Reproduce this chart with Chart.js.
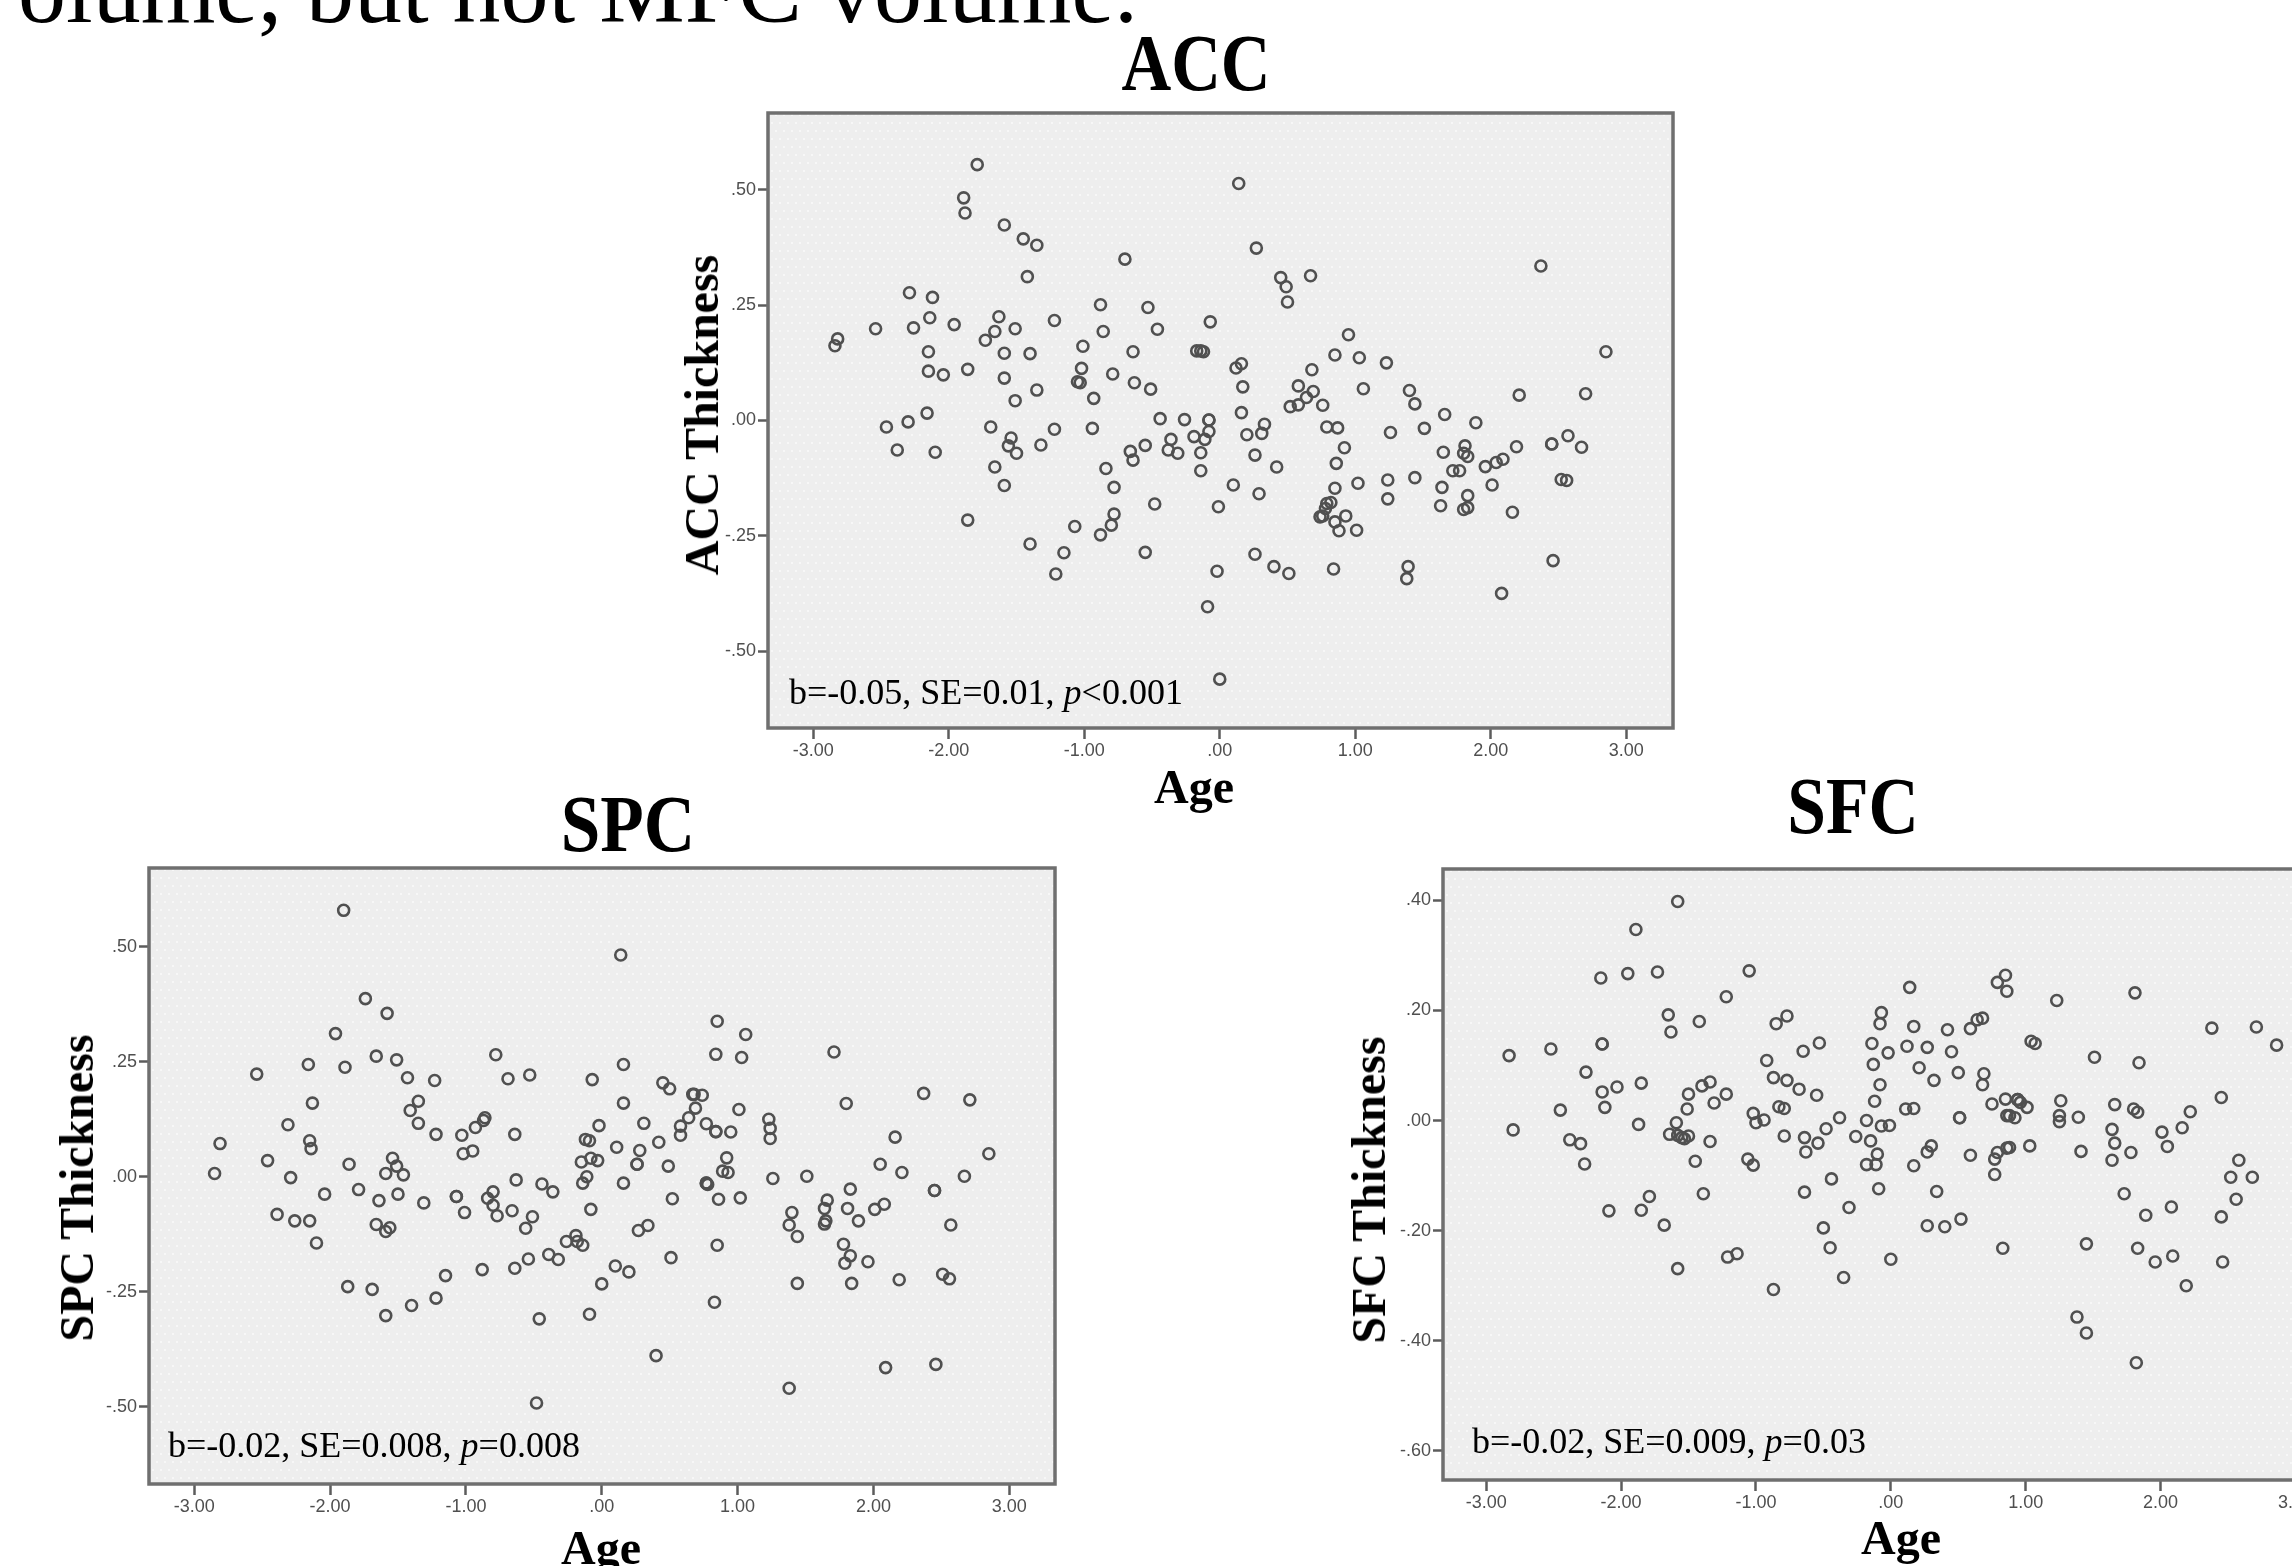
<!DOCTYPE html>
<html>
<head>
<meta charset="utf-8">
<script src="https://cdn.jsdelivr.net/npm/chart.js@4"></script>
<style>
html,body{margin:0;padding:0;width:2292px;height:1566px;overflow:hidden;background:#fff}
canvas{position:absolute;filter:blur(0.7px)}
.t{position:absolute;font-family:"Liberation Serif",serif;line-height:1;white-space:nowrap;color:#000}
.b{font-weight:bold}
</style>
</head>
<body>
<script>
const xTickValues=[-3,-2,-1,0,1,2,3];
const accTicks=[-0.5,-0.25,0,0.25,0.5];
const spcTicks=[-0.5,-0.25,0,0.25,0.5];
const sfcTicks=[-0.6,-0.4,-0.2,0,0.2,0.4];
const headline="olume, but not MFC volume.";
const accStat=["b=-0.05, SE=0.01, ","p","<0.001"];
const spcStat=["b=-0.02, SE=0.008, ","p","=0.008"];
const sfcStat=["b=-0.02, SE=0.009, ","p","=0.03"];

const accPoints=[[-1.79,.555],[-1.89,.483],[-1.88,.45],[-1.59,.424],[-1.45,.394],[-1.35,.38],[-1.42,.312],[-.7,.35],[.14,.514],[.27,.374],[.45,.31],[.49,.29],[.5,.257],[.67,.314],[2.37,.335],[-2.29,.277],[-2.12,.267],[-2.14,.223],[-2.26,.201],[-2.54,.199],[-1.96,.208],[-1.63,.225],[-1.66,.193],[-1.51,.199],[-1.73,.174],[-1.22,.217],[-.88,.251],[-.86,.193],[-.53,.245],[-.46,.198],[-.07,.214],[-1.01,.161],[-.64,.149],[-2.15,.149],[-1.59,.146],[-1.4,.145],[-2.82,.177],[-2.84,.162],[-2.15,.107],[-2.04,.099],[-1.86,.111],[-1.59,.092],[-1.02,.113],[-1.05,.084],[-1.03,.082],[-.79,.101],[-.63,.082],[-.51,.068],[-1.35,.066],[-1.51,.043],[-.93,.048],[-.17,.151],[-.14,.151],[-.12,.149],[.12,.114],[.16,.123],[.17,.073],[.68,.11],[.85,.142],[1.03,.136],[1.23,.125],[.95,.186],[1.06,.069],[.58,.075],[.69,.063],[.64,.05],[.58,.034],[.52,.03],[.76,.033],[1.4,.065],[1.44,.036],[1.66,.013],[1.89,-.005],[2.21,.055],[2.7,.058],[2.85,.149],
[-2.16,.016],[-2.3,-.003],[-2.46,-.014],[-2.38,-.064],[-2.1,-.069],[-1.69,-.014],[-1.54,-.038],[-1.56,-.055],[-1.5,-.071],[-1.66,-.101],[-1.59,-.141],[-1.32,-.053],[-1.22,-.019],[-.94,-.017],[-.44,.004],[-.26,.002],[-.08,.001],[-.08,.001],[.16,.017],[.33,-.008],[.31,-.028],[.2,-.031],[-.19,-.035],[-.11,-.041],[-.08,-.024],[-.36,-.041],[-.38,-.064],[-.31,-.071],[-.55,-.054],[-.66,-.067],[-.64,-.086],[-.84,-.104],[-.78,-.145],[-.14,-.07],[-.14,-.109],[.26,-.075],[.42,-.101],[.1,-.14],[.29,-.159],[-.01,-.187],[-.48,-.181],[-.78,-.203],[-.8,-.227],[-.88,-.248],[-1.07,-.23],[-1.4,-.268],[-1.15,-.287],[-1.21,-.333],[-1.86,-.216],[-.55,-.286],[-.02,-.327],[-.09,-.404],[0,-.561],[.26,-.29],[.4,-.317],[.51,-.332],[.84,-.322],[.79,-.014],[.87,-.016],[.92,-.059],[.86,-.093],[.85,-.147],[1.02,-.136],[.79,-.18],[.82,-.178],[.78,-.191],[.74,-.209],[.76,-.207],[.93,-.207],[.85,-.22],[.88,-.239],[1.01,-.238],[1.26,-.026],[1.51,-.017],[1.24,-.129],[1.24,-.17],[1.44,-.124],[1.39,-.317],[1.38,-.343],[1.65,-.069],[1.81,-.055],[1.8,-.071],[1.83,-.078],[1.72,-.109],[1.77,-.109],[1.64,-.145],[1.63,-.185],[1.83,-.163],[1.8,-.193],[1.83,-.189],[1.96,-.1],[2.04,-.091],[2.09,-.084],[2.19,-.057],[2.01,-.14],[2.16,-.199],[2.08,-.375],[2.45,-.051],[2.45,-.051],[2.46,-.304],[2.57,-.033],[2.67,-.058],[2.52,-.128],[2.56,-.13]];

const spcPoints=[[-1.9,.579],[.14,.482],[-1.74,.387],[-1.58,.355],[-1.96,.311],[.85,.338],[1.06,.309],[.84,.266],[1.03,.259],[1.71,.271],[-1.66,.262],[-1.51,.254],[-2.16,.244],[-1.89,.238],[-.78,.265],[.16,.244],[-2.54,.223],[-1.43,.215],[-1.23,.209],[-.69,.213],[-.53,.221],[-.07,.211],[.45,.204],[.5,.191],[.67,.179],[.68,.179],[.74,.177],[2.37,.181],[2.71,.167],[1.8,.159],[-2.13,.16],[-1.35,.164],[-1.41,.144],[.16,.16],[1.01,.146],[.69,.149],[-1.35,.116],[-2.31,.113],[.64,.128],[1.23,.125],[1.24,.105],[-.86,.128],[-.87,.122],[-.93,.107],[-.02,.111],[.31,.116],[.58,.11],[.58,.09],[.77,.115],[.84,.098],[.84,.098],[.95,.097],[-1.22,.092],[-1.03,.09],[-.64,.092],[2.16,.086],[1.24,.083],[-2.81,.072],[-2.15,.078],[-2.14,.061],[-.12,.081],[-.09,.078],[.42,.075],[.11,.064],[.28,.057],[-.95,.056],[-1.02,.05],[2.85,.05],[.92,.041],[-1.54,.04],[-2.46,.035],[-.15,.032],[-.08,.04],[-.03,.035],[.26,.027],[.26,.027],[-1.86,.027],[-1.51,.023],[.49,.023],[2.05,.027],[.89,.012],[.93,.009],[-1.59,.007],[-1.46,.004],[-2.85,.007],[2.21,.009],
[-2.29,-.002],[-.63,-.007],[-.44,-.016],[-.11,0],[-.14,-.014],[.16,-.014],[1.26,-.004],[1.51,.001],[2.67,.001],[.77,-.014],[.77,-.014],[.78,-.017],[-2.04,-.038],[-1.79,-.028],[-1.64,-.052],[-1.5,-.038],[-1.31,-.057],[-1.07,-.043],[-1.07,-.043],[-.84,-.047],[-.8,-.033],[-.8,-.062],[-1.01,-.078],[-.77,-.085],[-.66,-.074],[-.36,-.033],[-.51,-.087],[-.56,-.112],[-.08,-.071],[.52,-.048],[.86,-.049],[1.02,-.046],[1.66,-.051],[1.83,-.027],[1.64,-.069],[1.81,-.069],[1.4,-.078],[2.08,-.06],[2.01,-.071],[2.45,-.03],[2.45,-.03],[1.89,-.096],[1.65,-.096],[1.64,-.103],[1.38,-.105],[1.44,-.13],[2.57,-.105],[1.78,-.147],[1.83,-.172],[1.79,-.188],[1.96,-.185],[1.44,-.232],[1.84,-.232],[2.19,-.224],[2.51,-.212],[2.56,-.222],[-2.39,-.082],[-2.26,-.096],[-2.15,-.096],[-2.1,-.144],[-1.66,-.104],[-1.56,-.111],[-1.59,-.119],[-1.87,-.239],[-1.69,-.245],[-1.4,-.28],[-1.22,-.264],[-1.59,-.302],[-1.15,-.215],[-.88,-.202],[-.64,-.199],[-.54,-.179],[-.39,-.169],[-.32,-.18],[-.26,-.141],[-.19,-.128],[-.18,-.141],[-.14,-.149],[.27,-.117],[.34,-.106],[.1,-.194],[.2,-.207],[0,-.233],[.51,-.176],[.85,-.149],[.83,-.273],[-.09,-.299],[-.46,-.309],[.4,-.389],[1.38,-.46],[2.09,-.415],[2.46,-.408],[-.48,-.492]];

const sfcPoints=[[-1.58,.398],[-1.89,.347],[-2.15,.259],[-1.95,.267],[-1.73,.27],[-1.05,.272],[-1.22,.225],[.14,.242],[.79,.251],[.85,.264],[.86,.235],[1.23,.218],[1.81,.232],[-1.65,.192],[-1.63,.161],[-1.42,.18],[-.77,.19],[-.85,.176],[-.07,.196],[-.08,.176],[.17,.171],[.42,.165],[.59,.167],[.64,.183],[.68,.186],[2.38,.168],[2.71,.17],[2.86,.137],[-2.83,.118],[-2.52,.13],[-2.14,.139],[-2.14,.139],[-.53,.141],[-.65,.126],[-.92,.109],[-.14,.14],[-.02,.123],[-.13,.102],[.12,.135],[.27,.133],[.45,.125],[1.04,.144],[1.07,.14],[1.51,.115],[1.84,.105],[-2.26,.088],[.21,.096],[.5,.087],[.69,.085],[.68,.065],[.32,.073],[-.08,.065],[-.87,.078],[-.77,.073],[-.68,.057],[-.55,.046],[-1.85,.068],[-2.03,.061],[-2.14,.052],[-1.4,.063],[-1.34,.07],[-1.5,.048],[-1.22,.048],[-1.31,.032],[-2.12,.024],[-1.51,.021],[-2.45,.019],[-.12,.035],[.75,.03],[.85,.039],[.94,.038],[.94,.038],[.96,.033],[1.01,.024],[1.26,.036],[1.66,.029],[2.45,.042],[1.8,.021],[1.83,.015],[2.22,.016],[-.83,.025],[-.79,.022],[-1.02,.013],[.11,.021],[.17,.022],[.51,.005],[.51,.005],[.86,.009],[.88,.009],[.92,.005],[1.25,.009],[1.25,-.002],[1.39,.006],[-.38,.005],[-.18,0],[-.94,.001],[-1,-.004],[-1.59,-.004],[-1.87,-.007],[-.07,-.01],[-.01,-.009],[-.48,-.015],[1.64,-.016],[2.16,-.013],[2.01,-.021],[-2.8,-.017],[-1.64,-.025],[-1.58,-.027],[-1.55,-.031],[-1.53,-.033],[-1.5,-.028],[-2.38,-.035],[-2.3,-.042],[-1.34,-.038],[-.79,-.028],[-.64,-.031],[-.54,-.041],[-.26,-.029],[-.15,-.037],[.3,-.046],[.27,-.057],[1.03,-.046],[.86,-.05],[.88,-.049],[.79,-.058],[.77,-.07],[.59,-.063],[1.41,-.056],[1.66,-.041],[1.78,-.058],[1.64,-.072],[2.05,-.047],[2.58,-.072],[-.63,-.057],[-.1,-.061],[-.18,-.08],[-.11,-.08],[.17,-.082],[-1.06,-.07],[-1.02,-.081],[-1.45,-.074],[-2.27,-.079],
[-.44,-.106],[-.09,-.124],[.77,-.098],[-.64,-.13],[-1.39,-.133],[-1.79,-.138],[-2.09,-.164],[-1.85,-.163],[-1.68,-.19],[-1.58,-.269],[-1.21,-.248],[-1.14,-.242],[-.87,-.307],[-.31,-.158],[-.5,-.195],[-.45,-.231],[-.35,-.285],[.34,-.129],[.27,-.191],[.4,-.193],[.52,-.179],[0,-.252],[.83,-.232],[1.45,-.224],[1.38,-.357],[1.45,-.386],[1.82,-.44],[1.73,-.133],[2.08,-.157],[1.89,-.172],[2.45,-.175],[2.56,-.143],[2.52,-.103],[2.68,-.103],[1.83,-.232],[1.96,-.257],[2.09,-.246],[2.46,-.257],[2.19,-.3]];

const Y_AXIS=110, X_AXIS=60, PAD=40;

function fmt(v){return v.toFixed(2).replace(/^(-?)0\./,'$1.');}

function dotPattern(ctx){
  const c=document.createElement('canvas');c.width=16;c.height=16;
  const g=c.getContext('2d');
  g.fillStyle='#eeeeee';g.fillRect(0,0,16,16);
  g.fillStyle='#fbfbfb';
  [[2,2],[10,2],[6,10],[14,10]].forEach(p=>{g.beginPath();g.arc(p[0],p[1],0.9,0,7);g.fill();});
  return ctx.createPattern(c,'repeat');
}

const frame={
  id:'frame',
  beforeDatasetsDraw(ch){
    const a=ch.chartArea,c=ch.ctx;
    c.save();c.fillStyle=dotPattern(c);
    c.fillRect(a.left,a.top,a.width,a.height);c.restore();
  },
  afterDraw(ch){
    const a=ch.chartArea,c=ch.ctx;
    c.save();c.strokeStyle='#6f6f6f';c.lineWidth=3.5;
    c.strokeRect(a.left,a.top,a.width,a.height);c.restore();
  }
};

function panel(points,yTicks,box,xr,yr){
  const cv=document.createElement('canvas');
  const w=box.r-box.l+Y_AXIS+PAD, h=box.b-box.t+X_AXIS+PAD;
  cv.width=w;cv.height=h;
  cv.style.left=(box.l-Y_AXIS)+'px';cv.style.top=(box.t-PAD)+'px';
  cv.style.width=w+'px';cv.style.height=h+'px';
  document.body.appendChild(cv);
  const tickFont={family:'"Liberation Sans",Arial,sans-serif',size:18};
  new Chart(cv,{
    type:'scatter',
    data:{datasets:[{data:points.map(p=>({x:p[0],y:p[1]})),
      pointRadius:5.5,pointBorderWidth:2.6,pointBorderColor:'#505050',pointBackgroundColor:'rgba(0,0,0,0)',pointStyle:'circle'}]},
    plugins:[frame],
    options:{
      responsive:false,animation:false,devicePixelRatio:1,
      layout:{padding:{top:PAD,right:PAD,left:0,bottom:0}},
      plugins:{legend:{display:false},tooltip:{enabled:false},title:{display:false}},
      scales:{
        x:{type:'linear',min:xr[0],max:xr[1],
          afterBuildTicks:s=>{s.ticks=xTickValues.map(v=>({value:v}));},
          afterFit:s=>{s.height=X_AXIS;},
          grid:{drawOnChartArea:false,drawTicks:true,tickLength:11,tickColor:'#5c5c5c',tickWidth:2.5},
          border:{display:false},
          ticks:{callback:fmt,font:tickFont,color:'#4f4f4f',padding:1,autoSkip:false,maxRotation:0}},
        y:{type:'linear',min:yr[0],max:yr[1],
          afterBuildTicks:s=>{s.ticks=yTicks.map(v=>({value:v}));},
          afterFit:s=>{s.width=Y_AXIS;},
          grid:{drawOnChartArea:false,drawTicks:true,tickLength:10,tickColor:'#5c5c5c',tickWidth:2.5},
          border:{display:false},
          ticks:{callback:fmt,font:tickFont,color:'#4f4f4f',padding:2,autoSkip:false}}
      }
    }
  });
}

panel(accPoints,accTicks,{l:768,t:113,r:1673,b:728},[-3.334,3.345],[-0.667,0.667]);
panel(spcPoints,spcTicks,{l:149,t:868,r:1055,b:1484},[-3.333,3.337],[-0.668,0.671]);
panel(sfcPoints,sfcTicks,{l:1443,t:869,r:2340,b:1480},[-3.32,3.33],[-0.653,0.457]);

function label(text,cx,base,size,bold,sx){
  const d=document.createElement('div');
  d.className='t'+(bold?' b':'');d.textContent=text;
  d.style.fontSize=size+'px';
  d.style.left=cx+'px';d.style.top=(base-0.8375*size)+'px';
  d.style.transform='translateX(-50%) scaleX('+(sx||1)+')';
  document.body.appendChild(d);
}
function vlabel(text,cx,cy,size){
  const d=document.createElement('div');
  d.className='t b';d.textContent=text;
  d.style.fontSize=size+'px';
  d.style.left=cx+'px';d.style.top=cy+'px';
  d.style.transform='translate(-50%,-50%) rotate(-90deg)';
  document.body.appendChild(d);
}
function stat(parts,left,base,size){
  const d=document.createElement('div');
  d.className='t';d.style.fontSize=size+'px';
  d.style.left=left+'px';d.style.top=(base-0.8375*size)+'px';
  d.appendChild(document.createTextNode(parts[0]));
  const i=document.createElement('i');i.textContent=parts[1];d.appendChild(i);
  d.appendChild(document.createTextNode(parts[2]));
  document.body.appendChild(d);
}

label(headline,578,22,96,false);
label('ACC',1196,90,80,true,0.86);
label('SPC',628,851,80,true,0.89);
label('SFC',1853,833,80,true,0.87);
label('Age',1194,803,48,true);
label('Age',601,1564,48,true);
label('Age',1901,1554,48,true);
vlabel('ACC Thickness',702,415,48);
vlabel('SPC Thickness',77,1188,48);
vlabel('SFC Thickness',1369,1190,48);
stat(accStat,789,704,36);
stat(spcStat,168,1457,36);
stat(sfcStat,1472,1453,36);
</script>
</body>
</html>
